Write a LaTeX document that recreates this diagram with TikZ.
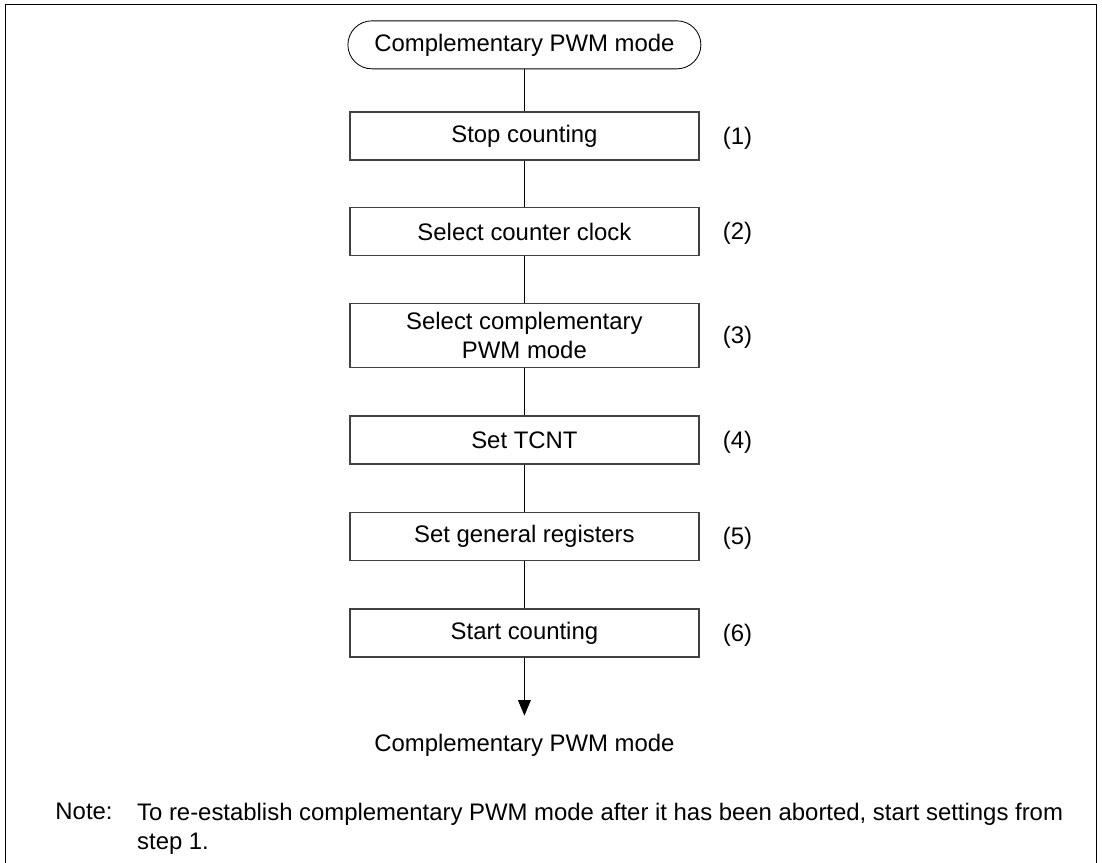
\documentclass[tikz,border=0pt]{standalone}
\usepackage{fontspec}
\setmainfont{Liberation Sans}
\usepackage{tikz}
\usetikzlibrary{arrows.meta, positioning}

\begin{document}
\begin{tikzpicture}[
  font=\fontsize{17}{20.6}\selectfont,
  terminal/.style = {draw, line width=0.6pt, rounded corners=0.6cm, minimum width=8.825cm, minimum height=1.2cm, align=center},
  box/.style = {draw=black!75, line width=0.9pt, minimum width=8.725cm, minimum height=1.2cm, align=center},
  steplabel/.style = {inner sep=0pt, yshift=-0.05cm},
  line/.style = {line width=0.6pt},
  arrow/.style = {line width=0.6pt, -{Triangle[length=0.39cm, width=0.32cm]}}
  ]

\useasboundingbox (0,0) rectangle (27.55,-21.575);

% Frame (open at the bottom)
\draw[line] (0.125,-21.575) -- (0.125,-0.108) -- (27.41,-0.108) -- (27.41,-21.575);

% Start
\node[terminal] (start) at (13.11,-1.121) {Complementary PWM mode};

% Steps
\node[box, below=1.05cm of start] (stop) {Stop counting};
\node[box, below=1.16cm of stop] (clock) {Select counter clock};
\node[box, below=1.17cm of clock, minimum height=1.6cm] (mode) {Select complementary\\PWM mode};
\node[box, below=1.18cm of mode] (tcnt) {Set TCNT};
\node[box, below=1.18cm of tcnt] (regs) {Set general registers};
\node[box, below=1.18cm of regs] (count) {Start counting};

% Step numbers
\node[steplabel, right=0.575cm of stop] (n1) {(1)};
\node[steplabel, right=0.575cm of clock] (n2) {(2)};
\node[steplabel, right=0.575cm of mode] (n3) {(3)};
\node[steplabel, right=0.575cm of tcnt] (n4) {(4)};
\node[steplabel, right=0.575cm of regs] (n5) {(5)};
\node[steplabel, right=0.575cm of count] (n6) {(6)};

% Draw lines
\draw[line] (start.south) -- (stop.north);
\draw[line] (stop.south) -- (clock.north);
\draw[line] (clock.south) -- (mode.north);
\draw[line] (mode.south) -- (tcnt.north);
\draw[line] (tcnt.south) -- (regs.north);
\draw[line] (regs.south) -- (count.north);

% End
\coordinate[below=1.45cm of count] (tip);
\draw[arrow] (count.south) -- (tip);
\node[inner sep=0pt, below=0.45cm of tip] (finish) {Complementary PWM mode};

% Note
\node[inner sep=0pt, anchor=north west] (notelbl) at (1.38,-20.075) {Note:};
\node[inner sep=0pt, align=left, right=0.6cm of notelbl.north east, anchor=north west] (note) {To re-establish complementary PWM mode after it has been aborted, start settings from\\step 1.};
\end{tikzpicture}
\end{document}
